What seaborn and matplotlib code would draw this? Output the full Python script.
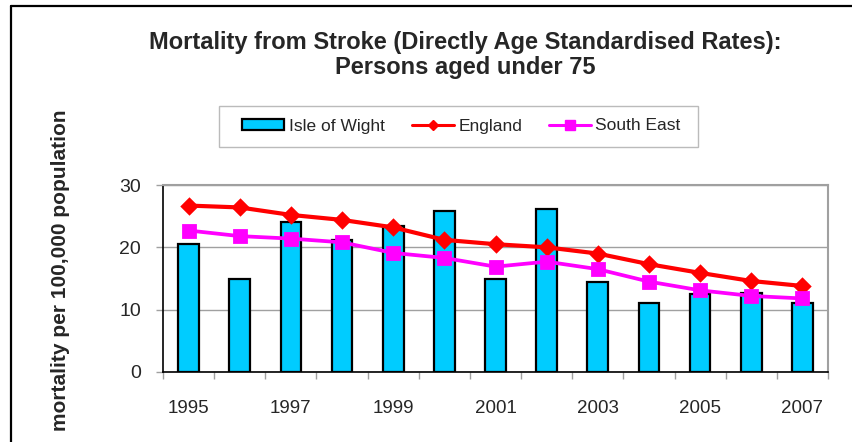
import matplotlib
matplotlib.use("Agg")
import matplotlib.pyplot as plt
import seaborn as sns
import pandas as pd
from matplotlib.patches import Patch, Rectangle
from matplotlib.lines import Line2D

years = ["1995", "1996", "1997", "1998", "1999", "2000", "2001",
         "2002", "2003", "2004", "2005", "2006", "2007"]
isle_of_wight = [20.6, 15.0, 24.0, 21.2, 23.5, 25.9, 15.0, 26.1, 14.4, 11.0, 12.5, 12.7, 11.1]
england = [26.7, 26.4, 25.2, 24.4, 23.2, 21.2, 20.5, 20.0, 19.0, 17.3, 15.9, 14.6, 13.8]
south_east = [22.7, 21.8, 21.4, 20.8, 19.1, 18.3, 16.9, 17.7, 16.5, 14.5, 13.1, 12.2, 11.8]
yticks = [0, 10, 20, 30]

title_line1 = "Mortality from Stroke (Directly Age Standardised Rates):"
title_line2 = "Persons aged under 75"
ylabel = "mortality per 100,000 population"

sns.set_theme(style="white")
plt.rcParams["font.family"] = ["Liberation Sans", "DejaVu Sans"]

df = pd.DataFrame({"year": years, "iow": isle_of_wight,
                   "eng": england, "se": south_east})

W, H = 852, 442
fig = plt.figure(figsize=(W / 100, H / 100), dpi=100)
ax = fig.add_axes([163 / W, 1 - 372 / H, (828 - 163) / W, (372 - 185) / H])

sns.barplot(data=df, x="year", y="iow", color="#00CCFF", saturation=1,
            width=0.405, edgecolor="black", linewidth=1.6, ax=ax, zorder=2)
sns.pointplot(data=df, x="year", y="eng", color="#FF0000", markers="D",
              markersize=7, linewidth=3, ax=ax, zorder=3)
sns.pointplot(data=df, x="year", y="se", color="#FF00FF", markers="s",
              markersize=8, linewidth=2.7, ax=ax, zorder=4)

ax.set_xlim(-0.5, len(years) - 0.5)
ax.set_ylim(0, 30)
ax.set_yticks(yticks)
ax.set_yticklabels([str(v) for v in yticks], fontsize=14)
ax.yaxis.grid(True, color="#A0A0A0", linewidth=1)
ax.set_axisbelow(True)

ax.set_xticks(range(0, len(years), 2))
ax.set_xticklabels(years[::2], fontsize=13.5)
ax.set_xticks([i - 0.5 for i in range(len(years) + 1)], minor=True)
ax.tick_params(axis="x", which="major", length=0, pad=20)
ax.tick_params(axis="x", which="minor", length=5, color="#A0A0A0", width=1, bottom=True)
ax.tick_params(axis="y", which="major", length=5, color="#A0A0A0", width=1, left=True, pad=11)
ax.set_xlabel("")
ax.set_ylabel("")

for s in ["left", "bottom"]:
    ax.spines[s].set_color("black")
    ax.spines[s].set_linewidth(1.2)
for s in ["top", "right"]:
    ax.spines[s].set_color("#A0A0A0")
    ax.spines[s].set_linewidth(1.5)

fig.text(465 / W, 1 - 49 / H, title_line1, ha="center", va="baseline",
         fontsize=17, fontweight="bold")
fig.text(465 / W, 1 - 74 / H, title_line2, ha="center", va="baseline",
         fontsize=17, fontweight="bold")
fig.text(61 / W, 1 - 270 / H, ylabel, ha="center", va="center",
         rotation=90, fontsize=15, fontweight="bold")

# legend frame
fig.add_artist(Rectangle((219 / W, 1 - 147 / H), (698 - 219) / W, (147 - 106) / H,
                         transform=fig.transFigure, facecolor="white",
                         edgecolor="#BBBBBB", linewidth=1.0, zorder=1))
handles = [
    Patch(facecolor="#00CCFF", edgecolor="black", linewidth=1.6, label="Isle of Wight"),
    Line2D([], [], color="#FF0000", marker="D", markersize=5, linewidth=2.2, label="England"),
    Line2D([], [], color="#FF00FF", marker="s", markersize=6.5, linewidth=2.2, label="South East"),
]
leg = fig.legend(handles=handles, loc="center", bbox_to_anchor=(461.5 / W, 1 - 126 / H),
                 ncol=3, fontsize=12.5, frameon=False, borderpad=0.0,
                 handlelength=2.42, handleheight=0.6, handletextpad=0.27,
                 columnspacing=1.53)
leg.set_zorder(2)
for t in leg.get_texts():
    t.set_verticalalignment("baseline")

# outer border (top and left visible)
fig.add_artist(Line2D([11 / W, 11 / W], [0, 1 - 6 / H], transform=fig.transFigure,
                      color="black", linewidth=1.6))
fig.add_artist(Line2D([11 / W, 1], [1 - 6 / H, 1 - 6 / H], transform=fig.transFigure,
                      color="black", linewidth=1.6))

fig.savefig("out.png", dpi=100)
